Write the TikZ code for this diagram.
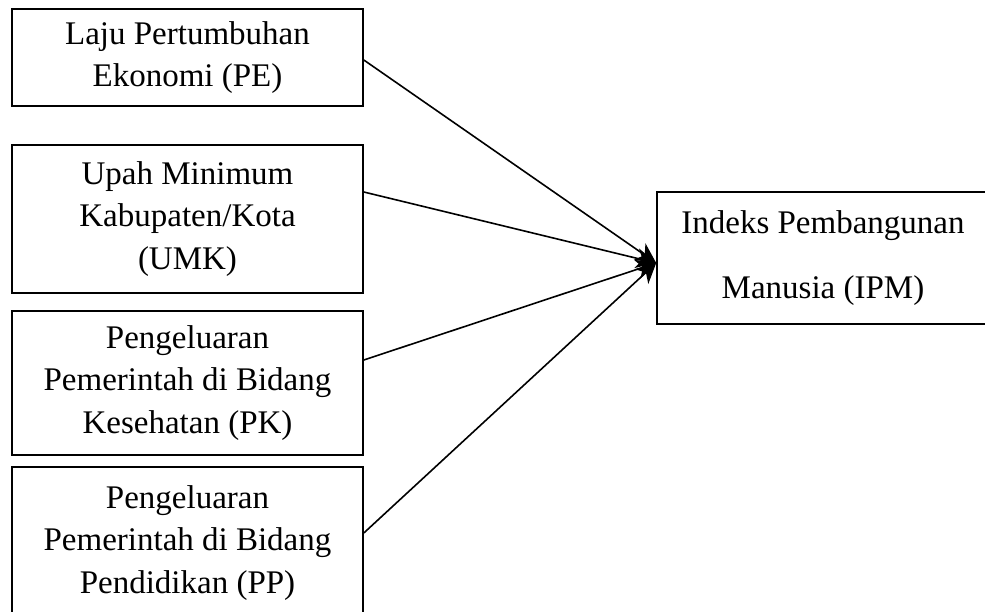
\documentclass[tikz,border=0pt]{standalone}
\usepackage{fontspec}
\setmainfont{Liberation Serif}
\usetikzlibrary{arrows.meta}
\begin{document}
\begin{tikzpicture}[x=1pt,y=1pt,
  box/.style={draw, line width=1.6pt, rectangle, inner sep=0pt, align=center,
    font=\fontsize{33}{42.5}\selectfont, minimum width=351pt},
  conn/.style={line width=1.6pt, -{Stealth[length=20pt,width=20pt,inset=6pt]}}]
\useasboundingbox (0,0) rectangle (985,-612);
\clip (0,0) rectangle (985,-612);
\node[box, minimum height=97pt] (pe) at (187.5,-57.5) {Laju Pertumbuhan\\Ekonomi (PE)};
\node[box, minimum height=148pt] (umk) at (187.5,-219) {Upah Minimum\\Kabupaten/Kota\\(UMK)};
\node[box, minimum height=144pt] (pk) at (187.5,-383) {Pengeluaran\\Pemerintah di Bidang\\Kesehatan (PK)};
\node[box, minimum height=152pt] (pp) at (187.5,-543) {Pengeluaran\\Pemerintah di Bidang\\Pendidikan (PP)};
\node[box, minimum width=332pt, minimum height=132pt, font=\fontsize{33}{65}\selectfont] (ipm) at (823,-258) {Indeks Pembangunan\\Manusia (IPM)};
\draw[conn] ([yshift=-2.5pt]pe.east) -- ([yshift=-5pt]ipm.west);
\draw[conn] ([yshift=27pt]umk.east) -- ([yshift=-5pt]ipm.west);
\draw[conn] ([yshift=23pt]pk.east) -- ([yshift=-5pt]ipm.west);
\draw[conn] ([yshift=10pt]pp.east) -- ([yshift=-5pt]ipm.west);
\end{tikzpicture}
\end{document}
